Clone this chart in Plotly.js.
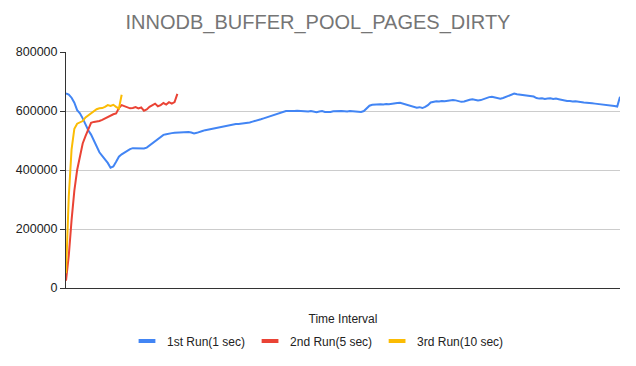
<!DOCTYPE html>
<html>
<head>
<meta charset="utf-8">
<script src="https://cdn.plot.ly/plotly-3.0.1.min.js"></script>
<style>html,body{margin:0;padding:0;background:#fff;}#chart{width:636px;height:366px;}</style>
</head>
<body>
<div id="chart"></div>
<script>
const seriesNames = ["1st Run(1 sec)", "2nd Run(5 sec)", "3rd Run(10 sec)"];
const seriesColors = ["#4285F4", "#EA4335", "#FBBC04"];
const yTickValues = [0, 200000, 400000, 600000, 800000];
const yTickLabels = ["0", "200000", "400000", "600000", "800000"];

const run1 = [
660000,656000,645000,628000,603000,592000,575000,553000,535000,520000,
498000,476000,460000,448000,437000,424000,408000,412000,428000,445000,
453000,460000,466000,471000,474000,474000,473000,474000,473000,476000,
483000,492000,499000,506000,513000,519000,521000,524000,525000,526000,
527000,528000,528000,530000,529000,527000,524000,526000,530000,532000,
535000,537000,539000,541000,544000,546000,547000,549000,552000,554000,
555000,556000,556000,557000,557000,558000,561000,564000,566000,569000,
572000,575000,578000,581000,584000,588000,591000,594000,597000,600000,
600000,599000,600000,601000,600000,599000,600000,598000,600000,597000,
596000,598000,600000,597000,596000,597000,599000,600000,601000,600000,
599000,598000,600000,599000,598000,596000,597000,600000,610000,618000,
621000,622000,621000,623000,622000,624000,623000,625000,626000,627000,
628000,625000,621000,619000,615000,612000,611000,613000,610000,614000,
620000,629000,632000,633000,632000,634000,633000,635000,636000,637000,
636000,633000,631000,632000,636000,638000,640000,638000,636000,637000,
641000,645000,647000,648000,646000,643000,642000,644000,648000,652000,
656000,659000,657000,656000,655000,654000,653000,652000,649000,644000,
642000,643000,641000,642000,643000,641000,642000,640000,638000,635000,
634000,634000,632000,633000,631000,630000,629000,628000,628000,626000,
625000,624000,624000,622000,621000,620000,618000,617000,615000,648000
];
const run2 = [
25000,110000,230000,330000,400000,445000,490000,515000,540000,560000,
563000,564000,566000,570000,575000,581000,585000,589000,592000,610000,
620000,617000,612000,609000,610000,613000,609000,612000,601000,605000,
614000,620000,625000,616000,620000,627000,622000,630000,625000,630000,
658000
];
const run3 = [
50000,310000,470000,540000,557000,562000,566000,578000,585000,590000,
598000,606000,609000,610000,614000,620000,617000,621000,614000,608000,
655000
];

const allRuns = [run1, run2, run3];
const traces = allRuns.map((vals, k) => ({
  type: "scatter",
  mode: "lines",
  y: vals,
  x: vals.map((v, i) => i),
  name: seriesNames[k],
  line: {color: seriesColors[k], width: 2},
  showlegend: false,
  hoverinfo: "skip"
}));
// legend-only entries with a short thick line symbol
seriesNames.forEach((nm, k) => {
  traces.push({
    type: "scatter", mode: "markers", x: [null], y: [null], name: nm,
    marker: {symbol: "line-ew-open", size: 12, color: seriesColors[k], line: {color: seriesColors[k], width: 4}},
    showlegend: true, hoverinfo: "skip"
  });
});

const layout = {
  width: 636, height: 366,
  margin: {l: 66, r: 16, t: 52, b: 78},
  paper_bgcolor: "#fff", plot_bgcolor: "#fff",
  font: {family: "Arial, 'Liberation Sans', sans-serif", size: 12, color: "#222222"},
  title: {text: "INNODB_BUFFER_POOL_PAGES_DIRTY", font: {size: 20, color: "#757575"},
          x: 0.5, xref: "container", xanchor: "center", y: 0.94, yref: "container", yanchor: "middle"},
  showlegend: true,
  legend: {orientation: "h", xref: "container", yref: "container", x: 0.5, xanchor: "center",
           y: 0.068, yanchor: "middle", font: {size: 12, color: "#222222"}, itemwidth: 30, traceorder: "normal"},
  xaxis: {
    range: [0, run1.length - 1],
    showticklabels: false, ticks: "", showgrid: false, zeroline: false,
    showline: true, linecolor: "#333333", linewidth: 1,
    title: {text: "Time Interval", font: {size: 12, color: "#222222"}, standoff: 26},
    fixedrange: true
  },
  yaxis: {
    range: [0, 800000],
    tickvals: yTickValues, ticktext: yTickLabels,
    ticks: "outside", ticklen: 5, tickcolor: "#333333",
    showgrid: true, gridcolor: "#cccccc", gridwidth: 1, zeroline: false,
    showline: true, linecolor: "#333333", linewidth: 1,
    tickfont: {size: 12.5, color: "#222222"},
    fixedrange: true
  },
  hovermode: false
};

Plotly.newPlot("chart", traces, layout, {displayModeBar: false, staticPlot: true});
</script>
</body>
</html>
